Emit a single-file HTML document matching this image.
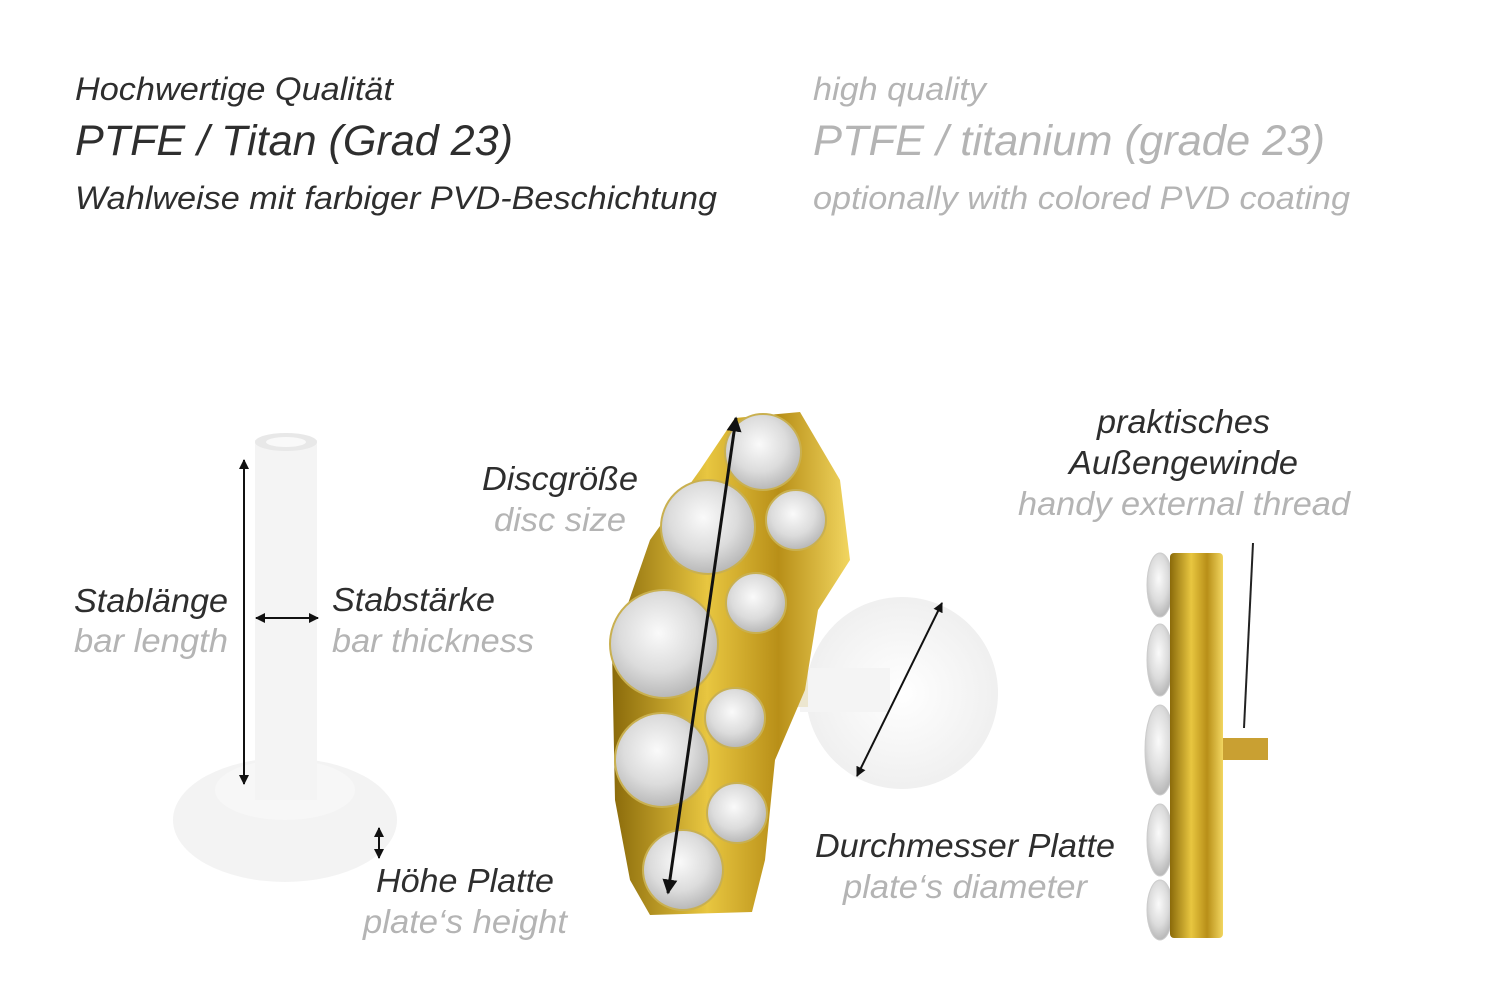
<!DOCTYPE html>
<html><head><meta charset="utf-8"><style>
html,body{margin:0;padding:0;background:#fff;}
svg{display:block}
text{font-family:"Liberation Sans",sans-serif;font-style:italic;}
.d{fill:#2e2e2e}.g{fill:#b4b4b4}
</style></head><body>
<svg width="1500" height="1001" viewBox="0 0 1500 1001" xmlns="http://www.w3.org/2000/svg">
<defs>
<radialGradient id="gem" cx="45%" cy="40%" r="60%"><stop offset="0" stop-color="#fafafa"/><stop offset="0.6" stop-color="#dcdcdc"/><stop offset="1" stop-color="#b8b8b8"/></radialGradient>
<linearGradient id="gold" x1="0" x2="1"><stop offset="0" stop-color="#8a6a0a"/><stop offset="0.4" stop-color="#e8c640"/><stop offset="0.7" stop-color="#b88f18"/><stop offset="1" stop-color="#f2d660"/></linearGradient>
<radialGradient id="pl" cx="50%" cy="50%" r="55%"><stop offset="0" stop-color="#ffffff"/><stop offset="1" stop-color="#eeeeee"/></radialGradient>
<marker id="a" viewBox="0 0 10 10" refX="9" refY="5" markerWidth="5" markerHeight="5" orient="auto-start-reverse"><path d="M0,0L10,5L0,10z" fill="#111"/></marker>
</defs>
<g lengthAdjust="spacingAndGlyphs">
<text x="75" y="100" font-size="32" class="d" textLength="318" lengthAdjust="spacingAndGlyphs">Hochwertige Qualität</text>
<text x="75" y="155" font-size="43" class="d" textLength="438" lengthAdjust="spacingAndGlyphs">PTFE / Titan (Grad 23)</text>
<text x="75" y="209" font-size="32" class="d" textLength="642" lengthAdjust="spacingAndGlyphs">Wahlweise mit farbiger PVD-Beschichtung</text>
<text x="813" y="100" font-size="32" class="g" textLength="173" lengthAdjust="spacingAndGlyphs">high quality</text>
<text x="813" y="155" font-size="43" class="g" textLength="512" lengthAdjust="spacingAndGlyphs">PTFE / titanium (grade 23)</text>
<text x="813" y="209" font-size="32" class="g" textLength="537" lengthAdjust="spacingAndGlyphs">optionally with colored PVD coating</text>
</g>

<!-- left labret -->
<ellipse cx="285" cy="820" rx="112" ry="62" fill="#f3f3f3"/>
<ellipse cx="285" cy="790" rx="70" ry="30" fill="#f7f7f7"/>
<rect x="255" y="440" width="62" height="360" fill="#f4f4f4"/>
<ellipse cx="286" cy="442" rx="31" ry="9" fill="#e8e8e8"/>
<ellipse cx="286" cy="442" rx="20" ry="5" fill="#f9f9f9"/>
<line x1="244" y1="460" x2="244" y2="784" stroke="#111" stroke-width="2" marker-start="url(#a)" marker-end="url(#a)"/>
<line x1="256" y1="618" x2="318" y2="618" stroke="#111" stroke-width="2" marker-start="url(#a)" marker-end="url(#a)"/>
<line x1="379" y1="828" x2="379" y2="858" stroke="#111" stroke-width="2" marker-start="url(#a)" marker-end="url(#a)"/>
<text x="74" y="612" font-size="33" class="d" textLength="154" lengthAdjust="spacingAndGlyphs">Stablänge</text>
<text x="74" y="652" font-size="33" class="g" textLength="154" lengthAdjust="spacingAndGlyphs">bar length</text>
<text x="332" y="611" font-size="33" class="d" textLength="163" lengthAdjust="spacingAndGlyphs">Stabstärke</text>
<text x="332" y="652" font-size="33" class="g" textLength="202" lengthAdjust="spacingAndGlyphs">bar thickness</text>
<text x="376" y="892" font-size="33" class="d" textLength="178" lengthAdjust="spacingAndGlyphs">Höhe Platte</text>
<text x="363" y="933" font-size="33" class="g" textLength="204" lengthAdjust="spacingAndGlyphs">plate‘s height</text>

<!-- middle -->
<circle cx="902" cy="693" r="96" fill="url(#pl)"/>
<rect x="800" y="668" width="90" height="44" fill="#f4f4f4"/>
<rect x="772" y="655" width="36" height="52" fill="#ece6cf"/>
<path d="M735,418 L800,412 L840,480 L850,560 L818,610 L805,690 L775,760 L765,860 L752,912 L650,915 L630,880 L615,800 L612,650 L650,540 L700,470 Z" fill="url(#gold)"/>
<g fill="url(#gem)" stroke="#c9b050" stroke-width="2">
<circle cx="763" cy="452" r="38"/>
<circle cx="708" cy="527" r="47"/>
<circle cx="796" cy="520" r="30"/>
<circle cx="756" cy="603" r="30"/>
<circle cx="664" cy="644" r="54"/>
<circle cx="735" cy="718" r="30"/>
<circle cx="662" cy="760" r="47"/>
<circle cx="737" cy="813" r="30"/>
<circle cx="683" cy="870" r="40"/>
</g>
<line x1="736" y1="418" x2="668" y2="893" stroke="#111" stroke-width="3" marker-start="url(#a)" marker-end="url(#a)"/>
<line x1="942" y1="603" x2="857" y2="776" stroke="#111" stroke-width="2" marker-start="url(#a)" marker-end="url(#a)"/>
<text x="482" y="490" font-size="33" class="d" textLength="156" lengthAdjust="spacingAndGlyphs">Discgröße</text>
<text x="494" y="531" font-size="33" class="g" textLength="132" lengthAdjust="spacingAndGlyphs">disc size</text>
<text x="815" y="857" font-size="33" class="d" textLength="300" lengthAdjust="spacingAndGlyphs">Durchmesser Platte</text>
<text x="843" y="898" font-size="33" class="g" textLength="244" lengthAdjust="spacingAndGlyphs">plate‘s diameter</text>

<!-- right -->
<g fill="url(#gem)" stroke="#ccc">
<ellipse cx="1160" cy="585" rx="13" ry="32"/>
<ellipse cx="1160" cy="660" rx="13" ry="36"/>
<ellipse cx="1160" cy="750" rx="15" ry="45"/>
<ellipse cx="1160" cy="840" rx="13" ry="36"/>
<ellipse cx="1160" cy="910" rx="13" ry="30"/>
</g>
<rect x="1170" y="553" width="53" height="385" rx="4" fill="url(#gold)"/>
<rect x="1223" y="738" width="45" height="22" fill="#c9a032"/>
<line x1="1253" y1="543" x2="1244" y2="728" stroke="#222" stroke-width="2"/>
<text x="1097" y="433" font-size="33" class="d" textLength="173" lengthAdjust="spacingAndGlyphs">praktisches</text>
<text x="1069" y="474" font-size="33" class="d" textLength="229" lengthAdjust="spacingAndGlyphs">Außengewinde</text>
<text x="1018" y="515" font-size="33" class="g" textLength="332" lengthAdjust="spacingAndGlyphs">handy external thread</text>
</svg>
</body></html>
